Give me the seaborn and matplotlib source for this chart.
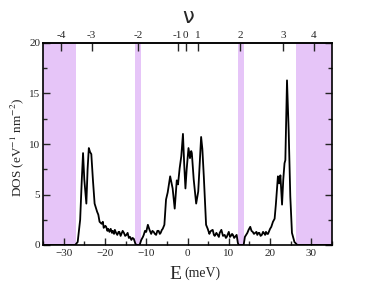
import numpy as np
import pandas as pd
import matplotlib
matplotlib.use("Agg")
import matplotlib.pyplot as plt
from matplotlib.ticker import MultipleLocator
import seaborn as sns

# ---- data ----
energy = [-35, -27.2, -26.6, -26.0, -25.6, -25.3, -25.0, -24.5, -24.2, -23.9, -23.6, -23.3,
          -22.9, -22.5, -21.9, -21.6, -21.3, -20.8, -20.5, -20.3, -19.9, -19.7, -19.4, -19.2,
          -18.9, -18.6, -18.3, -18.1, -17.8, -17.6, -17.3, -17.0, -16.7, -16.5, -16.2, -16.0,
          -15.7, -15.4, -15.1, -14.8, -14.5, -14.2, -13.9, -13.6, -13.3, -13.0, -12.6, -12.3,
          -11.6, -11.2, -10.8, -10.6, -10.3, -10.0, -9.6, -9.2, -8.8, -8.5, -8.2, -7.9, -7.6,
          -7.3, -7.0, -6.7, -6.5, -6.2, -6.0, -5.6, -5.2, -4.8, -4.2, -3.6,
          -3.1, -2.6, -2.3, -1.9, -1.5, -1.1, -0.8, -0.5, -0.2, 0.24, 0.6, 0.9, 1.05, 1.5, 2.1,
          2.6, 3.0, 3.3, 3.6, 3.95, 4.5, 4.9, 5.3, 5.5, 5.7, 6.1, 6.4, 6.6, 7.0, 7.3, 7.6, 7.8,
          8.2, 8.6, 9.0, 9.3, 9.5, 9.8, 10.0, 10.3, 10.5, 10.8, 11.0, 11.3, 11.5, 11.9, 12.2,
          12.4, 13.6, 13.9, 14.2, 14.5, 14.8, 15.2, 15.5, 15.8, 16.1, 16.4, 16.7, 16.9,
          17.2, 17.4, 17.7, 18.0, 18.3, 18.5, 18.8, 19.0, 19.3, 19.5, 19.8, 20.0, 20.3, 20.7,
          21.1, 21.4, 21.6, 21.9, 22.2, 22.5,
          22.7, 22.9, 23.2, 23.5, 23.7, 24.1, 24.5, 24.9, 25.3, 25.9, 26.6, 35]
dos = [0, 0, 0.3, 2.5, 6.5, 9.1, 6.5, 4.1, 7.5, 9.6, 9.2, 9.0,
       6.4, 4.1, 3.3, 3.0, 2.3, 2.1, 2.3, 1.7, 1.9, 1.8, 1.4, 1.6,
       1.3, 1.6, 1.2, 1.4, 1.1, 1.5, 1.2, 1.0, 1.3, 1.3, 0.9, 1.1,
       1.4, 1.2, 0.9, 1.0, 1.2, 0.7, 0.8, 0.5, 0.7, 0.6, 0.1, 0.0,
       0.0, 0.5, 0.8, 1.0, 1.4, 1.3, 2.0, 1.5, 1.1, 1.4, 1.3, 1.1, 1.0,
       1.4, 1.4, 1.1, 1.2, 1.5, 1.6, 2.0, 4.5, 5.2, 6.8, 5.6,
       3.6, 6.4, 6.0, 7.6, 8.8, 11.0, 8.0, 5.6, 7.5, 9.6, 8.6, 9.3, 9.1, 6.5, 4.1,
       5.3, 8.5, 10.7, 9.5, 6.8, 2.0, 1.6, 1.1, 1.3, 1.4, 1.5, 1.0, 0.9, 1.2, 1.0, 0.8, 1.2,
       1.5, 0.9, 1.0, 0.7, 0.8, 1.1, 1.3, 0.8, 0.9, 1.1, 1.0, 0.7, 0.8, 1.0, 0.2,
       0.0, 0.0, 0.8, 1.0, 1.2, 1.5, 1.8, 1.4, 1.3, 1.1, 1.2, 1.3, 1.0,
       1.2, 1.2, 0.9, 1.0, 1.3, 1.2, 1.0, 1.3, 1.1, 1.1, 1.4, 1.6, 1.8, 2.3,
       2.6, 4.0, 5.1, 6.8, 6.1, 6.9,
       5.5, 4.0, 6.5, 8.1, 8.4, 16.3, 11.4, 4.8, 1.2, 0.3, 0.0, 0]

gap_bands = [(-35, -27.0), (-12.6, -11.3), (12.2, 13.8), (26.2, 35)]
nu_positions = [-30.6, -23.2, -12.0, -2.4, -0.4, 2.6, 12.7, 23.2, 30.6]
nu_labels = ["-4", "-3", "-2", "-1", "0", "1", "2", "3", "4"]

df = pd.DataFrame({"E": energy, "DOS": dos})

sns.set_style("ticks")
plt.rcParams["font.family"] = ["Liberation Serif", "DejaVu Serif"]
plt.rcParams["mathtext.fontset"] = "stix"

fig = plt.figure(figsize=(3.74, 2.89), dpi=100)
ax = fig.add_axes([43/374, 1-245/289, (332-43)/374, (245-43)/289])

for a, b in gap_bands:
    ax.axvspan(a, b, color="#E6C5F8", lw=0, zorder=0)

sns.lineplot(data=df, x="E", y="DOS", ax=ax, color="black", lw=1.3, zorder=3)

ax.set_xlim(-35, 35)
ax.set_ylim(0, 20)
ax.xaxis.set_major_locator(MultipleLocator(10))
ax.xaxis.set_minor_locator(MultipleLocator(5))
ax.yaxis.set_major_locator(MultipleLocator(5))
ax.yaxis.set_minor_locator(MultipleLocator(2.5))
ax.tick_params(axis="both", which="both", direction="in", labelsize=8, width=1)
ax.tick_params(axis="x", which="major", length=5, pad=3)
ax.tick_params(axis="x", which="minor", length=3)
ax.tick_params(axis="y", which="major", length=5, right=True, pad=2)
ax.tick_params(axis="y", which="minor", length=3, right=True)
for s in ax.spines.values():
    s.set_linewidth(1.2)
    s.set_color("black")

ax.set_xlabel("")
ax.set_ylabel("")

# top nu axis
top = ax.secondary_xaxis("top")
top.set_xticks(nu_positions)
top.set_xticklabels(nu_labels)
top.tick_params(direction="in", length=6, width=1, labelsize=8, pad=2)
top.spines["top"].set_linewidth(1.2)

fig.text(0.503, 0.975, "ν", ha="center", va="top", fontsize=15, family="DejaVu Sans")

fig.text(0.486, 0.022, "E", ha="right", va="bottom", fontsize=14)
fig.text(0.492, 0.030, "(meV)", ha="left", va="bottom", fontsize=10)

fig.text(0.045, 0.49, r"DOS (eV$^{-1}$ nm$^{-2}$)", rotation=90, ha="center", va="center",
         fontsize=9.5)

fig.savefig("out.png", dpi=100)
